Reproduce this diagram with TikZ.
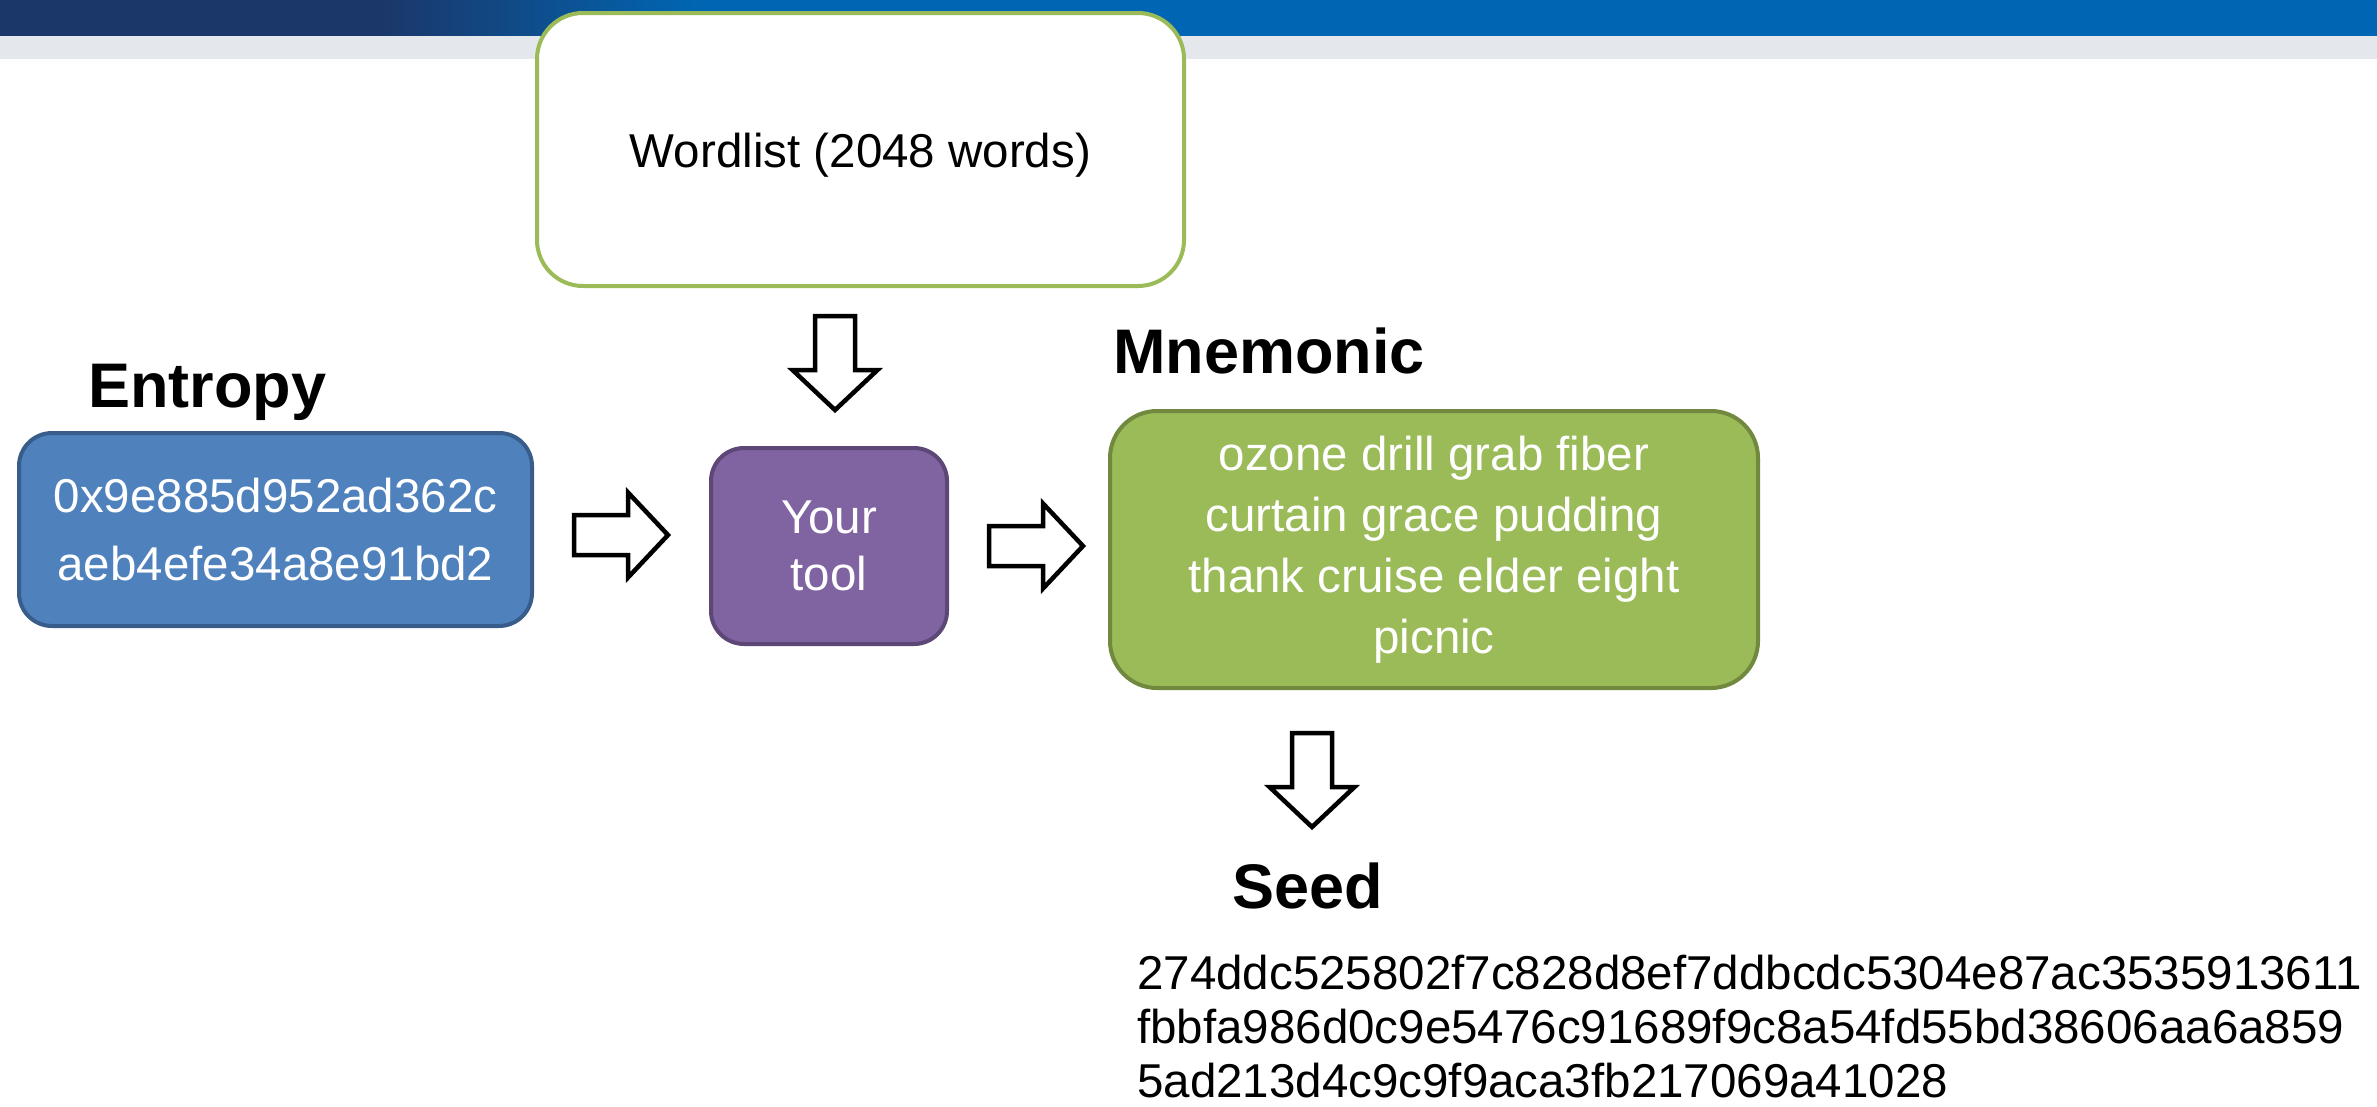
\documentclass[tikz,border=0pt]{standalone}
\usepackage{fontspec}
\setmainfont{Liberation Sans}
\usetikzlibrary{calc}
\definecolor{barnavy}{HTML}{1B3769}
\definecolor{barblue}{HTML}{0066B3}
\definecolor{bandgray}{HTML}{E4E7EC}
\definecolor{entfill}{HTML}{4F81BD}
\definecolor{entdraw}{HTML}{385D8A}
\definecolor{toolfill}{HTML}{8064A2}
\definecolor{tooldraw}{HTML}{5C4776}
\definecolor{mnefill}{HTML}{9BBB59}
\definecolor{mnedraw}{HTML}{71893F}
\newcommand\mybodyfont{\fontsize{47.5}{57}\selectfont}
\newcommand\mylabelfont{\fontsize{63}{75}\selectfont\bfseries}
\begin{document}
\begin{tikzpicture}[x=1pt,y=-1pt,
  boxstyle/.style={draw, line width=4, inner sep=0, align=center, font=\mybodyfont},
  labelstyle/.style={anchor=base west, inner sep=0, font=\mylabelfont, text=black},
  arrowline/.style={draw=black, fill=white, line width=4.5, line join=miter},
  blockarrow/.pic={\path[arrowline] (0,-20) -- (54,-20) -- (54,-42.5) -- (94,0) -- (54,42.5) -- (54,20) -- (0,20) -- cycle;}
]
\useasboundingbox (0,0) rectangle (2377,1106);
\fill[white] (0,0) rectangle (2377,1106);
% header bar
\fill[barnavy] (0,0) rectangle (381,36);
\shade[left color=barnavy, right color=barblue] (380,0) rectangle (701,36);
\fill[barblue] (700,0) rectangle (2377,36);
\fill[bandgray] (0,36) rectangle (2377,59);
% boxes
\node[boxstyle, fill=white, draw=mnefill, text=black, minimum width=647, minimum height=273, rounded corners=46,
  text height=46, text depth=10]
  (wordlist) at (860.5,149.5) {Wordlist (2048 words)};
\node[boxstyle, fill=entfill, draw=entdraw, text=white, minimum width=513, minimum height=193, rounded corners=33,
  font=\fontsize{47.5}{68}\selectfont]
  (entropy) at (275.5,529.5) {0x9e885d952ad362c\\aeb4efe34a8e91bd2};
\node[boxstyle, fill=toolfill, draw=tooldraw, text=white, minimum width=236, minimum height=196, rounded corners=33]
  (tool) at (829,546) {Your\\tool};
\node[boxstyle, fill=mnefill, draw=mnedraw, text=white, minimum width=648, minimum height=277, rounded corners=47,
  font=\fontsize{47.5}{61}\selectfont]
  (mnemonic) at (1434,549.5) {ozone drill grab fiber\\curtain grace pudding\\thank cruise elder eight\\picnic};
% labels
\node[labelstyle] (entlabel) at (88,407) {Entropy};
\node[labelstyle] (mnelabel) at (1113,373) {Mnemonic};
\node[labelstyle] (seedlabel) at (1232,908) {Seed};
\node[anchor=north west, align=left, inner sep=0, font=\fontsize{47.5}{54}\selectfont]
  (seedhex) at (1137,955) {274ddc525802f7c828d8ef7ddbcdc5304e87ac3535913611\\fbbfa986d0c9e5476c91689f9c8a54fd55bd38606aa6a859\\5ad213d4c9c9f9aca3fb217069a41028};
% block arrows
\pic at (574,535) {blockarrow};
\pic at (989,546) {blockarrow};
\pic[rotate=-90] at (835,316) {blockarrow};
\pic[rotate=-90] at (1312,733) {blockarrow};
\end{tikzpicture}
\end{document}
